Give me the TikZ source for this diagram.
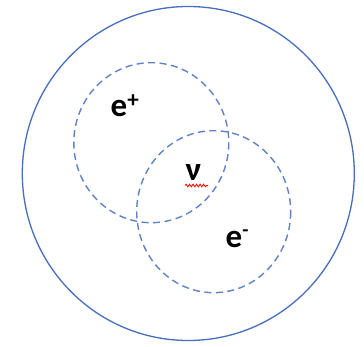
\documentclass[tikz,border=0pt]{standalone}
\usepackage{fontspec}
\setmainfont{Carlito}
\usetikzlibrary{decorations.pathmorphing}
\definecolor{ringblue}{RGB}{72,110,190}
\definecolor{dashblue}{RGB}{95,130,200}
\begin{document}
\begin{tikzpicture}[x=1pt,y=-1pt,
  outer/.style={draw=ringblue,line width=1.3pt},
  inner/.style={draw=dashblue,line width=1.4pt,dash pattern=on 7pt off 4.5pt},
  lbl/.style={font=\fontsize{33}{36}\selectfont\bfseries,inner sep=0pt,anchor=base west}]
\useasboundingbox (0,0) rectangle (364,347);
\fill[white] (0,0) rectangle (364,347);
\draw[outer] (188.3,173.5) ellipse [x radius=166,y radius=167];
\draw[inner] (151.3,142.7) ellipse [x radius=77.5,y radius=80];
\draw[inner] (213.7,211.7) ellipse [x radius=77,y radius=81];
\node[lbl] (ep) at (110.5,117) {e\textsuperscript{+}};
\node[lbl] (nu) at (185.5,181) {ν};
\node[lbl] (em) at (225.5,248) {e\raisebox{2pt}{\textsuperscript{\fontsize{20}{20}\selectfont -}}};
\draw[red,line width=0.8pt,decorate,decoration={snake,amplitude=1.3pt,segment length=3.5pt}]
  (185,185.5) -- (208,185.5);
\end{tikzpicture}
\end{document}
